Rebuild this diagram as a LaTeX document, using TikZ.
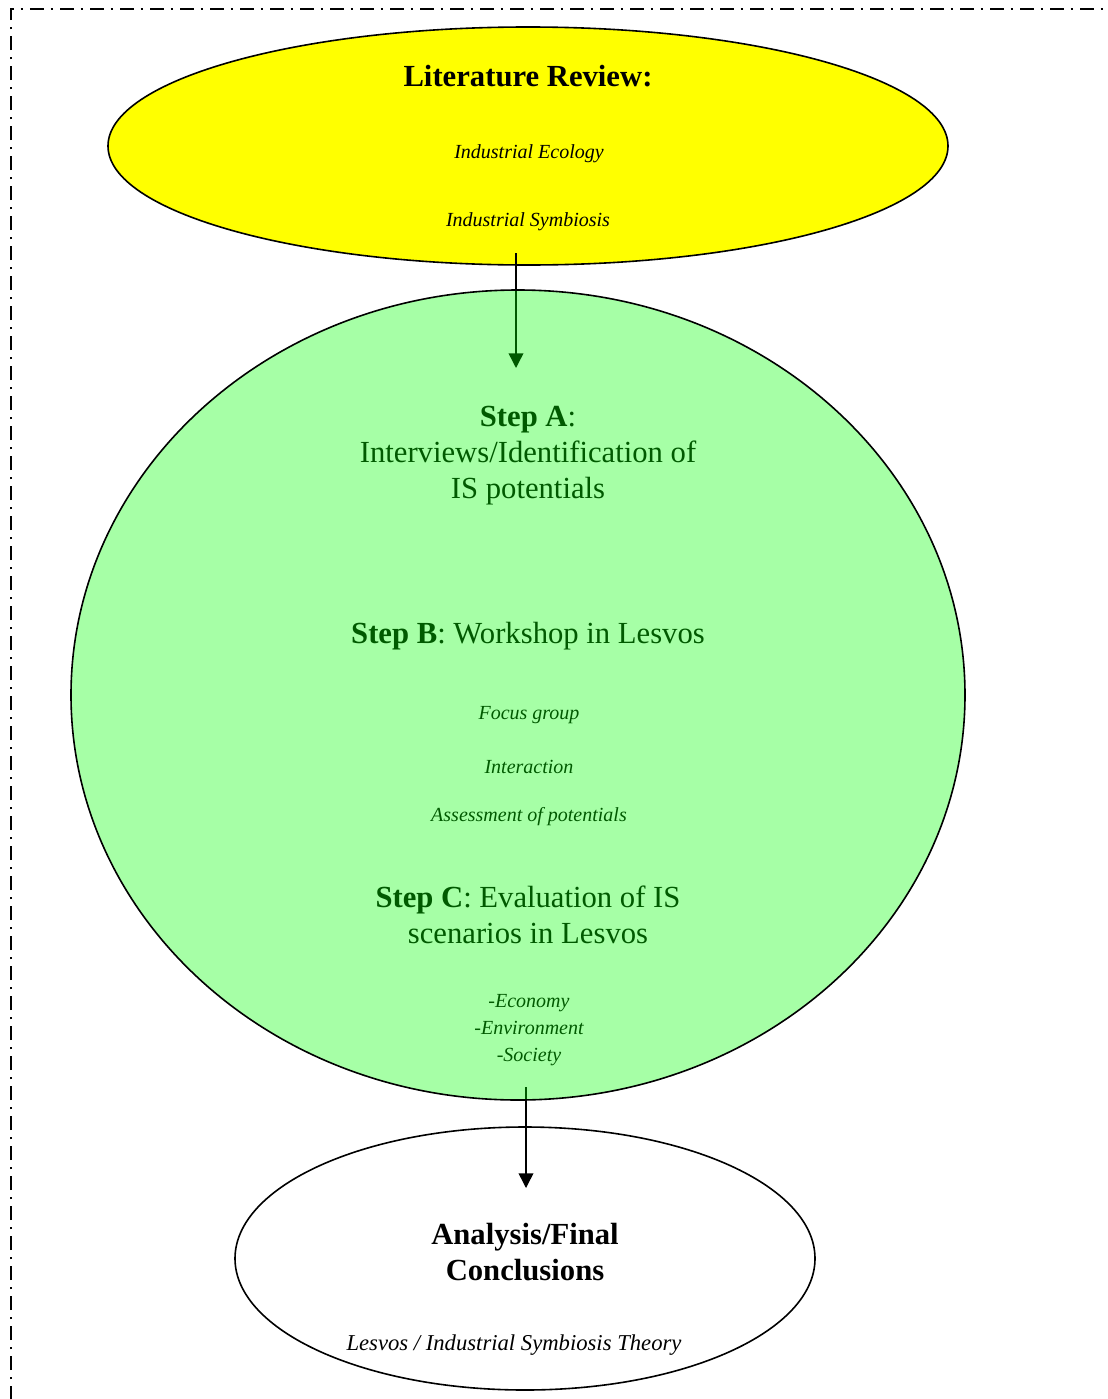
\documentclass[tikz,border=0pt]{standalone}
\usepackage{fontspec}
\setmainfont{Liberation Serif}
\usetikzlibrary{arrows.meta,shapes.geometric}
% layers: opaque ovals at the bottom, connectors above them, translucent oval on top
\pgfdeclarelayer{under}
\pgfdeclarelayer{links}
\pgfsetlayers{under,links,main}
\definecolor{litfill}{RGB}{255,255,0}
\definecolor{stepgreen}{RGB}{0,255,0}
\definecolor{steptext}{RGB}{0,90,0}
\begin{document}
\begin{tikzpicture}[x=0.75pt,y=-0.75pt,
  oval/.style={ellipse, draw=black, line width=1.2pt, inner sep=0pt, outer sep=0pt},
  big/.style={font=\fontsize{23}{27}\selectfont, anchor=base, inner sep=0pt},
  small/.style={font=\fontsize{15}{18}\selectfont\itshape, anchor=base, inner sep=0pt},
  link/.style={draw=black, line width=1.1pt, -{Triangle[width=11pt,length=11pt]}},
  frame/.style={line width=1.1pt, dash pattern=on 10.5pt off 5pt on 1.5pt off 5.5pt}
]
\useasboundingbox (0,0) rectangle (1107,1399);

% dash-dotted frame (only its top and left sides fall inside the page)
\draw[frame] (11,1430) -- (11,9) -- (1130,9);

% ovals
\begin{pgfonlayer}{under}
  \node[oval, fill=litfill, minimum width=630pt, minimum height=178.5pt] (lit) at (528,146) {};
  \node[oval, fill=white, minimum width=435pt, minimum height=197.25pt] (concl) at (525,1258.5) {};
\end{pgfonlayer}
\node[oval, fill=stepgreen, fill opacity=0.35, minimum width=670.5pt, minimum height=607.5pt] (steps) at (518,695) {};

% connectors
\coordinate (litout) at (516,253);
\coordinate (stepsin) at (516,368);
\coordinate (stepsout) at (526,1087);
\coordinate (conclin) at (526,1188);
\begin{pgfonlayer}{links}
  \draw[link] (litout) -- (stepsin);
  \draw[link] (stepsout) -- (conclin);
\end{pgfonlayer}

% literature review
\node[big] (littitle) at (528,86) {\textbf{Literature Review:}};
\node[small] (ie) at (529,158) {Industrial Ecology};
\node[small] (is) at (528,226) {Industrial Symbiosis};

% step A
\node[big, text=steptext] (stepA) at (528,426) {\textbf{Step A}:};
\node[big, text=steptext] (stepA2) at (528,462) {Interviews/Identification of};
\node[big, text=steptext] (stepA3) at (528,498) {IS potentials};

% step B
\node[big, text=steptext] (stepB) at (528,643) {\textbf{Step B}: Workshop in Lesvos};
\node[small, text=steptext] (b1) at (529,719) {Focus group};
\node[small, text=steptext] (b2) at (529,773) {Interaction};
\node[small, text=steptext] (b3) at (529,821) {Assessment of potentials};

% step C
\node[big, text=steptext] (stepC) at (528,907) {\textbf{Step C}: Evaluation of IS};
\node[big, text=steptext] (stepC2) at (528,943) {scenarios in Lesvos};
\node[small, text=steptext] (c1) at (529,1007) {-Economy};
\node[small, text=steptext] (c2) at (529,1034) {-Environment};
\node[small, text=steptext] (c3) at (529,1061) {-Society};

% analysis
\node[big] (an1) at (525,1244) {\textbf{Analysis/Final}};
\node[big] (an2) at (525,1280) {\textbf{Conclusions}};
\node[small, font=\fontsize{17}{20}\selectfont\itshape] (an3) at (514,1350) {Lesvos / Industrial Symbiosis Theory};
\end{tikzpicture}
\end{document}
